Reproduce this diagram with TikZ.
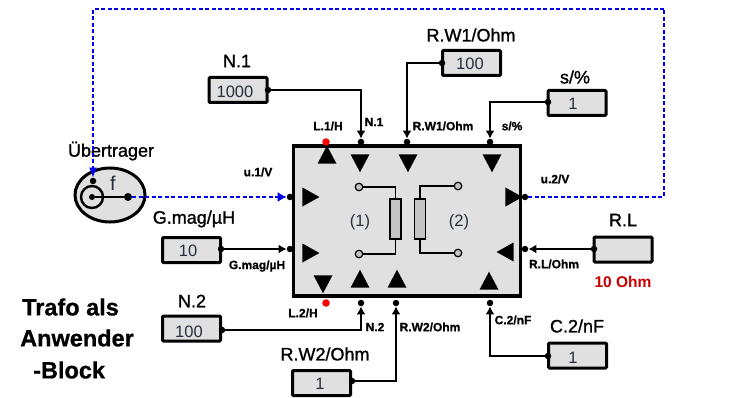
\documentclass[tikz,border=0pt]{standalone}
\usepackage{fontspec}
\setmainfont{Liberation Sans}
\newfontfamily\headfont[FakeBold=1.2]{Liberation Sans}
\newfontfamily\heavyfont[BoldFeatures={FakeBold=0.8}]{Liberation Sans}
\usetikzlibrary{arrows.meta,shapes.geometric}
\definecolor{blockgray}{HTML}{E0E0E0}
\definecolor{coilgray}{HTML}{C4C4C4}
\definecolor{valueink}{HTML}{262E3E}
\definecolor{linkblue}{HTML}{0000F0}
\tikzset{
  paramblock/.style={draw, rounded corners=1pt, line width=3pt, fill=blockgray, minimum width=58pt, minimum height=25pt, inner sep=0pt},
  pindot/.style={circle, fill=black, inner sep=0pt, minimum size=6.5pt},
  reddot/.style={circle, fill=red, inner sep=0pt, minimum size=7.5pt},
  term/.style={circle, draw, line width=1.2pt, fill=coilgray, inner sep=0pt, minimum size=7.5pt},
  coil/.style={draw, line width=1.7pt, fill=coilgray, inner sep=0pt, minimum width=11pt, minimum height=40pt},
  trih/.style={isosceles triangle, isosceles triangle stretches, fill=black, inner sep=0pt, minimum width=19pt, minimum height=17pt, shape border rotate=#1},
  triv/.style={isosceles triangle, isosceles triangle stretches, fill=black, inner sep=0pt, minimum width=19pt, minimum height=18pt, shape border rotate=#1},
  headlabel/.style={inner sep=0pt, font=\headfont\fontsize{18}{20}\selectfont},
  pinlabel/.style={inner sep=0pt, font=\heavyfont\bfseries\fontsize{12}{14}\selectfont},
  valuelabel/.style={inner sep=0pt, text=valueink, font=\fontsize{16.5}{19}\selectfont},
  titlelabel/.style={inner sep=0pt, anchor=west, font=\heavyfont\bfseries\fontsize{23.5}{26}\selectfont},
  wire/.style={line width=1.4pt, -{Latex[length=8pt,width=9pt]}},
  bluewire/.style={line width=1.3pt, linkblue, dash pattern=on 4pt off 2.5pt}
}
\begin{document}
\begin{tikzpicture}[x=1pt, y=-1pt]
\useasboundingbox (0,0) rectangle (741,398);
\node[draw, line width=3.5pt, fill=blockgray, minimum width=227pt, minimum height=150pt, inner sep=0pt] (M_block) at (407,221) {};
\node[triv=90] (T_L1) at (327,158) {};
\node[triv=-90] (T_N1) at (360,160) {};
\node[triv=-90] (T_RW1) at (408,160) {};
\node[triv=-90] (T_s) at (492,160) {};
\node[trih=0] (T_u1) at (308,197) {};
\node[trih=0] (T_Gmag) at (308,253) {};
\node[trih=0] (T_u2) at (511,197) {};
\node[trih=180] (T_RL) at (508,252) {};
\node[triv=-90] (T_L2) at (323,281) {};
\node[triv=90] (T_N2) at (360,282) {};
\node[triv=90] (T_RW2) at (397,282) {};
\node[triv=90] (T_C2) at (489,284) {};
\node[reddot] (D_L1) at (326,142) {};
\node[reddot] (D_L2) at (326,303) {};
\node[coil] (C_left) at (395.5,219) {};
\node[coil] (C_right) at (420,219) {};
\node[term] (K_1) at (359,187) {};
\node[term] (K_2) at (359,254) {};
\node[term] (K_3) at (458,186) {};
\node[term] (K_4) at (458,253) {};
\draw[line width=1.4pt] (K_1) -| (C_left.north);
\draw[line width=1.4pt] (K_2) -| (C_left.south);
\draw[line width=1.4pt] (K_3) -| (C_right.north);
\draw[line width=1.4pt] (K_4) -| (C_right.south);
\node[valuelabel] (L_one) at (360,222) {(1)};
\node[valuelabel] (L_two) at (459,222) {(2)};
\node[pindot] (P_N1) at (361,142) {};
\node[pindot] (P_RW1) at (407,142) {};
\node[pindot] (P_s) at (490,142) {};
\node[pindot] (P_u1) at (290,197) {};
\node[pindot] (P_Gmag) at (290,249) {};
\node[pindot] (P_u2) at (525,197) {};
\node[pindot] (P_RL) at (525,249) {};
\node[pindot] (P_N2) at (361,303) {};
\node[pindot] (P_RW2) at (396,303) {};
\node[pindot] (P_C2) at (490,303) {};
\node[paramblock] (B_N1) at (238,90) {};
\node[valuelabel] at (235,92) {1000};
\node[headlabel] (H_N1) at (237,61) {N.1};
\node[pindot] (Q_N1) at (268,90) {};
\draw[wire] (Q_N1) -| (P_N1);
\node[pinlabel] (W_N1) at (374,122) {N.1};
\node[paramblock] (B_RW1) at (471.5,63) {};
\node[valuelabel] at (470,64) {100};
\node[headlabel] (H_RW1) at (471,35) {R.W1/Ohm};
\node[pindot] (Q_RW1) at (442,63) {};
\draw[wire] (Q_RW1) -| (P_RW1);
\node[pinlabel] (W_RW1) at (443,126) {R.W1/Ohm};
\node[paramblock] (B_s) at (577,103) {};
\node[valuelabel] at (573,104) {1};
\node[headlabel] (H_s) at (575,77) {s/\%};
\node[pindot] (Q_s) at (548,102) {};
\draw[wire] (Q_s) -| (P_s);
\node[pinlabel] (W_s) at (512,126) {s/\%};
\node[pinlabel] (W_L1) at (328,126) {L.1/H};
\node[paramblock] (B_Gmag) at (191.5,250) {};
\node[valuelabel] at (188,251) {10};
\node[headlabel] (H_Gmag) at (194,219) {G.mag/µH};
\node[pindot] (Q_Gmag) at (221,249) {};
\draw[wire] (Q_Gmag) -- (P_Gmag);
\node[pinlabel] (W_Gmag) at (257,266) {G.mag/µH};
\node[paramblock] (B_N2) at (191.5,328.5) {};
\node[valuelabel] at (189,332) {100};
\node[headlabel] (H_N2) at (192,301) {N.2};
\node[pindot] (Q_N2) at (222,330) {};
\draw[wire] (Q_N2) -| (P_N2);
\node[pinlabel] (W_N2) at (375,327) {N.2};
\node[pinlabel] (W_L2) at (303,313) {L.2/H};
\node[paramblock] (B_RW2) at (321.5,383) {};
\node[valuelabel] at (320,384) {1};
\node[headlabel] (H_RW2) at (325,354) {R.W2/Ohm};
\node[pindot] (Q_RW2) at (352,381) {};
\draw[wire] (Q_RW2) -| (P_RW2);
\node[pinlabel] (W_RW2) at (430,327) {R.W2/Ohm};
\node[paramblock] (B_C2) at (577.5,355.5) {};
\node[valuelabel] at (573,358) {1};
\node[headlabel] (H_C2) at (577,326) {C.2/nF};
\node[pindot] (Q_C2) at (548,356) {};
\draw[wire] (Q_C2) -| (P_C2);
\node[pinlabel] (W_C2) at (513,320) {C.2/nF};
\node[paramblock] (B_RL) at (623,249.5) {};
\node[headlabel] (H_RL) at (623,220) {R.L};
\node[pindot] (Q_RL) at (594,249) {};
\draw[wire] (Q_RL) -- (P_RL);
\node[pinlabel] (W_RL) at (554,264) {R.L/Ohm};
\node[inner sep=0pt, text={rgb,255:red,200;green,0;blue,0}, font=\bfseries\fontsize{15.5}{18}\selectfont] (V_RL) at (623,282) {10 Ohm};
\node[draw, ellipse, line width=3pt, fill=blockgray, minimum width=70pt, minimum height=54pt, inner sep=0pt] (U_body) at (110,195) {};
\node[circle, draw, line width=2.4pt, minimum size=22pt, inner sep=0pt] (U_ring) at (92,197) {};
\node[circle, fill=black, inner sep=0pt, minimum size=6pt] (U_hub) at (92,197) {};
\node[circle, fill=black, inner sep=0pt, minimum size=8pt] (U_out) at (128,197) {};
\draw[line width=2pt] (U_hub) -- (U_out);
\node[inner sep=0pt, text=valueink, font=\fontsize{20}{22}\selectfont] (U_f) at (113,183) {f};
\node[headlabel] (H_U) at (111,151) {Übertrager};
\node[pindot] (U_in) at (93,181) {};
\coordinate (R_top) at (664,9);
\draw[bluewire, -{Latex[length=10pt,width=8pt]}] (R_top) -| (U_in);
\draw[bluewire] (P_u2) -| (R_top);
\draw[bluewire, -{Latex[length=9pt,width=10pt]}] (U_out) -- (P_u1);
\node[pinlabel] (W_u1) at (258,172) {u.1/V};
\node[pinlabel] (W_u2) at (555,179) {u.2/V};
\node[titlelabel] (A_1) at (22,307) {Trafo als};
\node[titlelabel] (A_2) at (20,338) {Anwender};
\node[titlelabel] (A_3) at (33,370) {-Block};
\end{tikzpicture}
\end{document}
